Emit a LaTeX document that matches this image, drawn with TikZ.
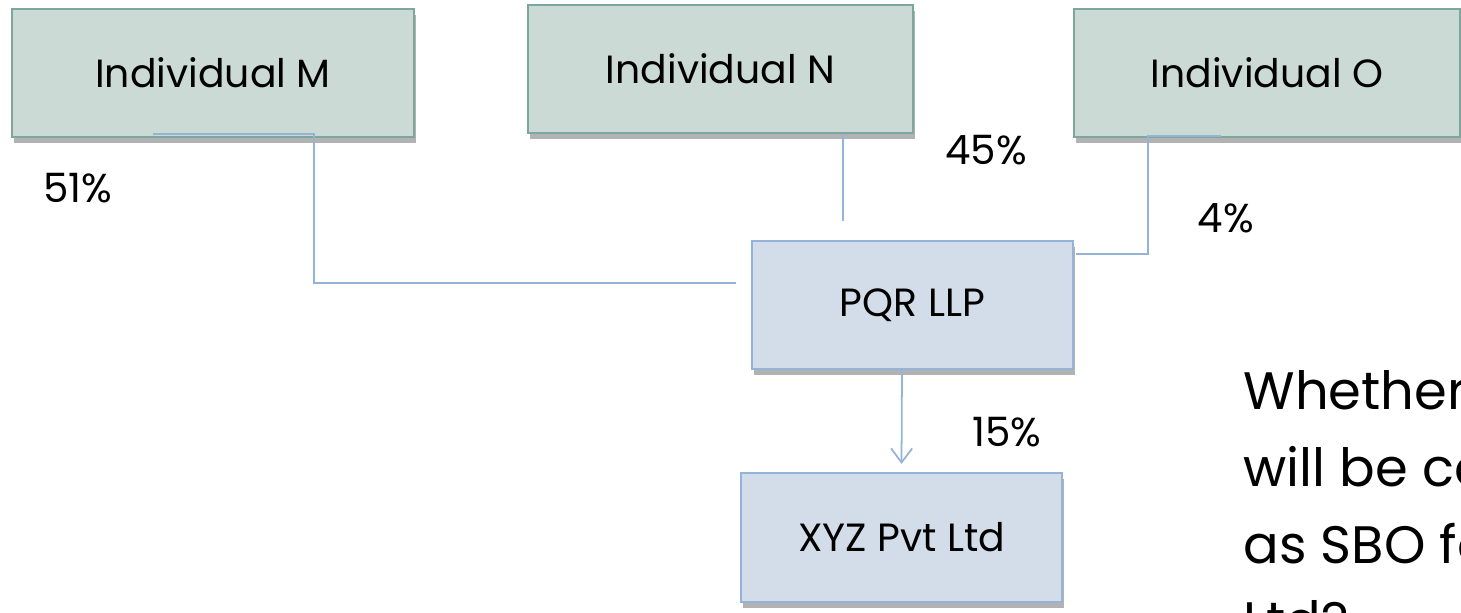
\documentclass[tikz,border=0pt]{standalone}
\usepackage{fontspec}
\setmainfont{Poppins}
\usepackage{xcolor}
\usepackage{tikz}
\usetikzlibrary{arrows.meta,calc,shadows}
\definecolor{ownfill}{HTML}{CBDAD5}\definecolor{owndraw}{HTML}{7BA79D}
\definecolor{firmfill}{HTML}{D3DDE9}\definecolor{firmdraw}{HTML}{95B3D7}
\tikzset{
  basebox/.style={rectangle,line width=0.6pt,minimum height=1.28cm,font=\fontsize{11.2}{13}\selectfont,
    drop shadow={shadow xshift=0.6pt,shadow yshift=-1.6pt,fill=black!55,opacity=0.55}},
  ownerbox/.style={basebox,draw=owndraw,fill=ownfill},
  firmbox/.style={basebox,draw=firmdraw,fill=firmfill,minimum width=3.21cm},
  link/.style={draw=firmdraw,line width=0.5pt},
  pct/.style={font=\fontsize{11.5}{13}\selectfont}
}
\begin{document}
\begin{tikzpicture}
\useasboundingbox (0,0) rectangle (14.61,-6.13);
\node[ownerbox,minimum width=4.02cm] (indM) at (2.13,-0.73) {Individual M};
\node[ownerbox,minimum width=3.85cm] (indN) at (7.205,-0.69) {Individual N};
\node[ownerbox,minimum width=3.86cm] (indO) at (12.67,-0.73) {Individual O};
\node[firmbox] (pqr) at (9.125,-3.05) {PQR LLP};
\node[firmbox,minimum height=1.29cm] (xyz) at (9.015,-5.375) {XYZ Pvt Ltd};
% holdings
\draw[link] ($(indM.south)+(-0.6,0.04)$) -- ++(1.61,0) |- ($(pqr.west)+(-0.15,0.22)$);
\draw[link] ($(indN.south)+(1.225,0)$) -- ($(pqr.north)+(-0.695,0.19)$);
\draw[link] ($(indO.south)+(-0.46,0.02)$) -- ++(-0.73,0) |- ($(pqr.north east)+(0.02,-0.14)$);
\draw[link,-{Straight Barb[length=4pt,width=6pt]}] ($(pqr.south)+(-0.105,0)$) -- ($(xyz.north)+(0,0.08)$);
\node[pct] (pM) at (0.78,-1.88) {51\%}; \node[pct] (pN) at (9.86,-1.50) {45\%};
\node[pct] (pO) at (12.26,-2.18) {4\%}; \node[pct] (pX) at (10.07,-4.32) {15\%};
\begin{scope}
\clip (0,0) rectangle (14.61,-6.13);
\node[anchor=base west,align=left,inner sep=0pt,font=\fontsize{15}{21.9}\selectfont] (q) at (12.43,-6.40)
  {Whether M\\will be considered\\as SBO for XYZ Pvt\\Ltd?};
\end{scope}
\end{tikzpicture}
\end{document}
